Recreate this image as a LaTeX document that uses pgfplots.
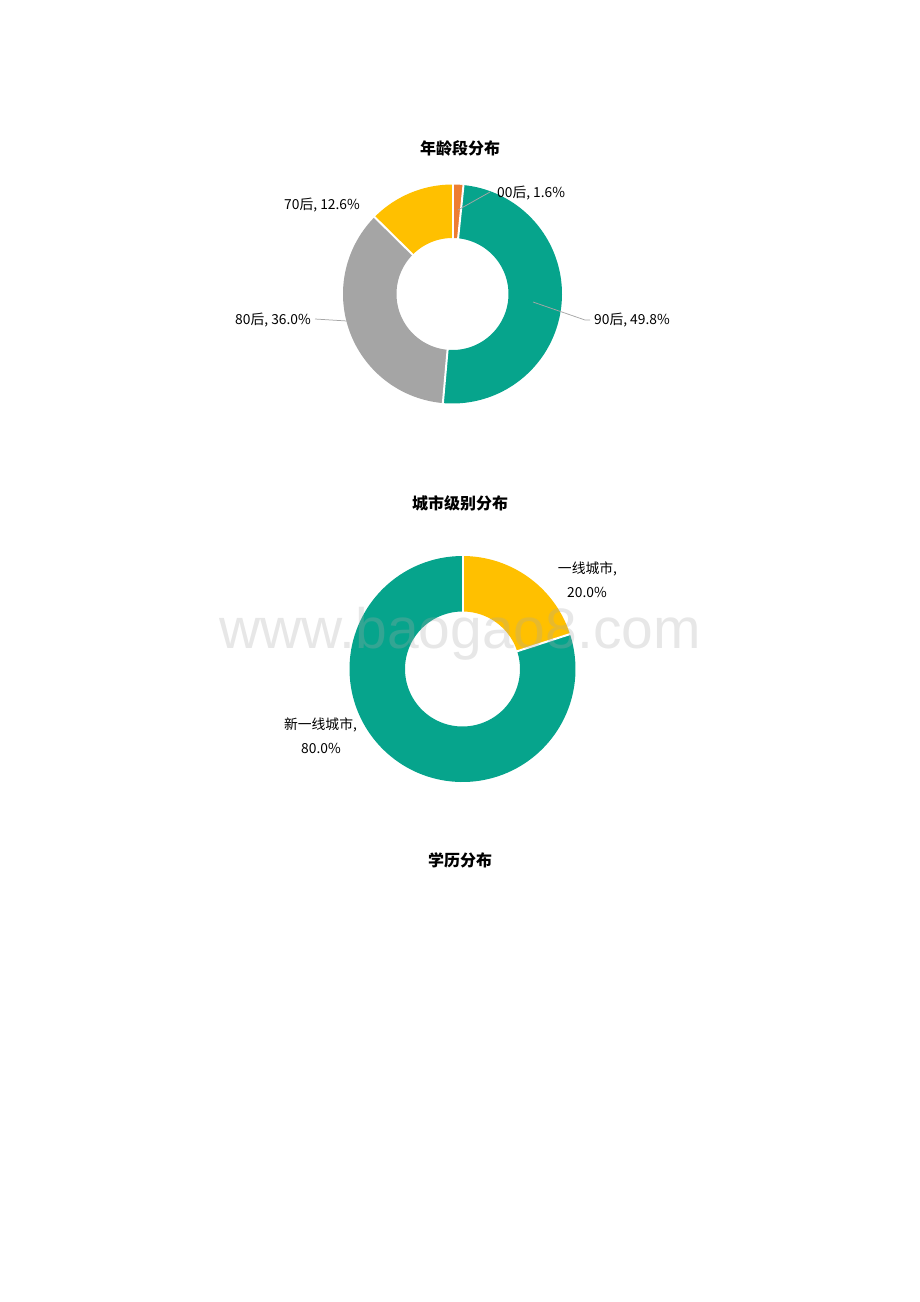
\documentclass[border=0pt]{standalone}
\usepackage{pgfplots}
\pgfplotsset{compat=1.18}
\usepackage{fontspec}
\setmainfont{Noto Sans CJK SC}
\newfontfamily\wmfont{Liberation Sans}
\definecolor{cTeal}{HTML}{06A48C}
\definecolor{cOrange}{HTML}{ED7D31}
\definecolor{cGray}{HTML}{A5A5A5}
\definecolor{cYellow}{HTML}{FFC000}
\definecolor{cLead}{HTML}{A6A6A6}
\definecolor{cWm}{HTML}{A8A8A8}
% ---- data (percent) ----
% chart 1: age groups, clockwise from 12 o'clock
\def\ageA{1.6}   % 00后
\def\ageB{49.8}  % 90后
\def\ageC{36.0}  % 80后
\def\ageD{12.6}  % 70后
% chart 2: city tiers
\def\cityA{20.0} % 一线城市
\def\cityB{80.0} % 新一线城市
% cumulative angles
\pgfmathsetmacro\pA{0}
\pgfmathsetmacro\pB{3.6*\ageA}
\pgfmathsetmacro\pC{\pB+3.6*\ageB}
\pgfmathsetmacro\pD{\pC+3.6*\ageC}
\pgfmathsetmacro\pE{\pD+3.6*\ageD}
\pgfmathsetmacro\qA{0}
\pgfmathsetmacro\qB{3.6*\cityA}
\pgfmathsetmacro\qC{\qB+3.6*\cityB}
\newcommand\lbl{\fontsize{13.8}{16}\selectfont}
\newcommand\ttl{\fontsize{16}{18}\selectfont\bfseries}
\begin{document}
\begin{tikzpicture}[x=1pt,y=1pt]
\path[use as bounding box] (0,0) rectangle (920,-1302);
\node[font=\ttl] at (460,-148) {年龄段分布};
\node[font=\ttl] at (460,-503) {城市级别分布};
\node[font=\ttl] at (460,-860) {学历分布};
% ---- chart 1 ----
\begin{axis}[at={(452.5,-294)}, anchor=origin, x=1pt, y=1pt,
  xmin=-120, xmax=120, ymin=-120, ymax=120, hide axis, clip=false, samples=90]
\addplot[draw=cOrange, line width=53.5pt, domain=\pA:\pB] ({82.75*sin(x)},{82.75*cos(x)});
\addplot[draw=cTeal,   line width=53.5pt, domain=\pB:\pC] ({82.75*sin(x)},{82.75*cos(x)});
\addplot[draw=cGray,   line width=53.5pt, domain=\pC:\pD] ({82.75*sin(x)},{82.75*cos(x)});
\addplot[draw=cYellow, line width=53.5pt, domain=\pD:\pE] ({82.75*sin(x)},{82.75*cos(x)});
\addplot[white, line width=2pt, samples=2, domain=55:110.5] ({x*sin(\pA)},{x*cos(\pA)});
\addplot[white, line width=2pt, samples=2, domain=55:110.5] ({x*sin(\pB)},{x*cos(\pB)});
\addplot[white, line width=2pt, samples=2, domain=55:110.5] ({x*sin(\pC)},{x*cos(\pC)});
\addplot[white, line width=2pt, samples=2, domain=55:110.5] ({x*sin(\pD)},{x*cos(\pD)});
\draw[cLead, line width=0.75pt] (axis cs:5.5,84) -- (axis cs:37.5,102);
\draw[cLead, line width=0.75pt] (axis cs:80.5,-8) -- (axis cs:132.5,-26) -- (axis cs:137.5,-26);
\draw[cLead, line width=0.75pt] (axis cs:-137.5,-25) -- (axis cs:-105.5,-27);
\node[font=\lbl, anchor=west, inner sep=0pt] at (axis cs:44.5,101) {00后, 1.6\%};
\node[font=\lbl, anchor=west, inner sep=0pt] at (axis cs:141.5,-26) {90后, 49.8\%};
\node[font=\lbl, anchor=east, inner sep=0pt] at (axis cs:-141.5,-26) {80后, 36.0\%};
\node[font=\lbl, inner sep=0pt] at (axis cs:-130.5,89) {70后, 12.6\%};
\end{axis}
% ---- chart 2 ----
\begin{axis}[at={(462.5,-669)}, anchor=origin, x=1pt, y=1pt,
  xmin=-120, xmax=120, ymin=-120, ymax=120, hide axis, clip=false, samples=120]
\addplot[draw=cYellow, line width=55.5pt, domain=\qA:\qB] ({85.25*sin(x)},{85.25*cos(x)});
\addplot[draw=cTeal,   line width=55.5pt, domain=\qB:\qC] ({85.25*sin(x)},{85.25*cos(x)});
\addplot[white, line width=2pt, samples=2, domain=57:114] ({x*sin(\qA)},{x*cos(\qA)});
\addplot[white, line width=2pt, samples=2, domain=57:114] ({x*sin(\qB)},{x*cos(\qB)});
\node[font=\lbl, inner sep=0pt] at (axis cs:125,100) {一线城市,};
\node[font=\lbl, inner sep=0pt] at (axis cs:124.5,77) {20.0\%};
\node[font=\lbl, inner sep=0pt] at (axis cs:-142,-56) {新一线城市,};
\node[font=\lbl, inner sep=0pt] at (axis cs:-141.5,-79) {80.0\%};
\end{axis}
% watermark
\node[font=\wmfont\fontsize{57}{60}\selectfont, text=cWm, text opacity=0.28] at (460,-634) {www.baogao8.com};
\end{tikzpicture}
\end{document}
